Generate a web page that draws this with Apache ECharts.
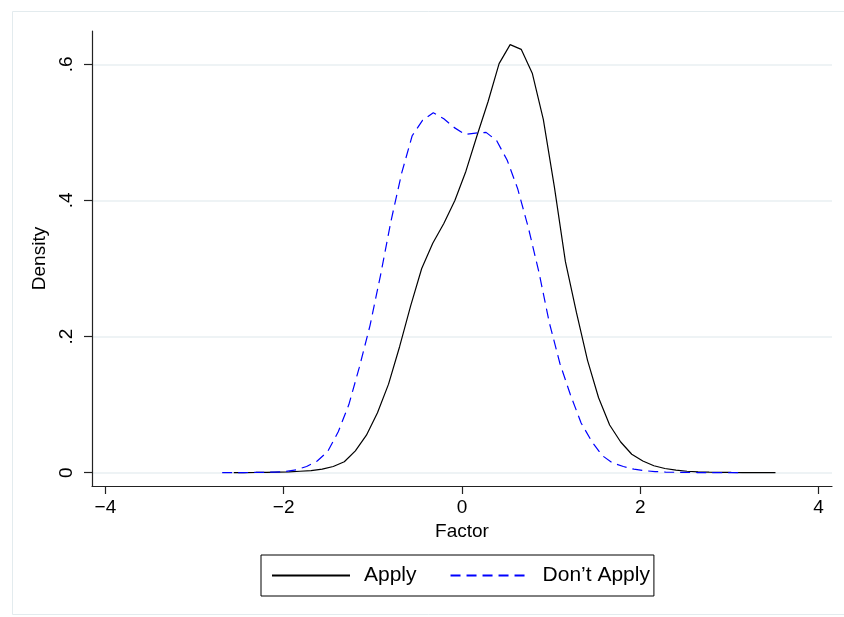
<!DOCTYPE html>
<html>
<head>
<meta charset="utf-8">
<script src="https://cdn.jsdelivr.net/npm/echarts@6/dist/echarts.min.js"></script>
<style>html,body{margin:0;padding:0;background:#fff}#c{width:844px;height:617px}</style>
</head>
<body>
<div id="c"></div>
<script>
// ---- data ----
const applyX = [-2.56,-2.436,-2.312,-2.188,-2.064,-1.94,-1.816,-1.692,-1.568,-1.444,-1.32,-1.196,-1.072,-0.948,-0.824,-0.70,-0.576,-0.452,-0.328,-0.204,-0.08,0.044,0.168,0.292,0.416,0.54,0.664,0.788,0.912,1.036,1.16,1.284,1.408,1.532,1.656,1.78,1.904,2.028,2.152,2.276,2.40,2.524,2.648,2.772,2.896,3.02,3.144,3.268,3.392,3.516];
const applyY = [0.0000,0.0001,0.0002,0.0004,0.0007,0.001,0.002,0.003,0.005,0.009,0.016,0.032,0.055,0.088,0.130,0.185,0.245,0.300,0.337,0.366,0.400,0.443,0.495,0.545,0.601,0.629,0.622,0.587,0.519,0.420,0.310,0.235,0.165,0.110,0.070,0.045,0.027,0.017,0.010,0.006,0.0035,0.002,0.0012,0.0007,0.0004,0.0002,0.0001,0.0001,0.0000,0.0000];
const dontX = [-2.69,-2.572,-2.453,-2.335,-2.216,-2.098,-1.980,-1.861,-1.743,-1.624,-1.506,-1.388,-1.269,-1.151,-1.032,-0.914,-0.796,-0.677,-0.559,-0.441,-0.322,-0.204,-0.086,0.033,0.151,0.270,0.388,0.507,0.625,0.744,0.862,0.980,1.099,1.217,1.336,1.454,1.573,1.691,1.810,1.928,2.047,2.165,2.284,2.402,2.521,2.639,2.758,2.876,2.995,3.113];
const dontY = [0.0000,0.0000,0.0001,0.0002,0.0004,0.0008,0.0015,0.004,0.009,0.017,0.031,0.060,0.100,0.155,0.216,0.290,0.370,0.440,0.495,0.518,0.529,0.520,0.507,0.497,0.499,0.500,0.488,0.459,0.417,0.360,0.295,0.220,0.160,0.114,0.073,0.046,0.025,0.014,0.009,0.005,0.0028,0.0015,0.0008,0.0004,0.0002,0.0001,0.0001,0.0000,0.0000,0.0000];
const seriesNames = ['Apply', 'Don\u2019t Apply'];
const xTicks = [-4, -2, 0, 2, 4];
const yTicks = [0, 0.2, 0.4, 0.6];
const xTitle = 'Factor';
const yTitle = 'Density';

// ---- chart ----
const chart = echarts.init(document.getElementById('c'), null, {renderer: 'canvas'});
const FONT = '"Liberation Sans", Arial, Helvetica, sans-serif';
const pair = (xs, ys) => xs.map((x, i) => [x, ys[i]]);
const fmtY = v => { if (Math.abs(v) < 1e-9) return '0'; return String(+v.toFixed(1)).replace(/^0/, ''); };
const fmtX = v => (v < 0 ? '\u2212' + Math.abs(v) : String(v));

chart.setOption({
  animation: false,
  backgroundColor: '#ffffff',
  graphic: [{
    type: 'rect', left: 10, top: 9, silent: true,
    shape: {width: 840, height: 603},
    style: {fill: 'none', stroke: '#e3ebee', lineWidth: 1}
  }],
  grid: {left: 92, right: 12, top: 31, bottom: 131, containLabel: false},
  xAxis: {
    type: 'value', min: -4.15, max: 4.15,
    name: xTitle, nameLocation: 'middle', nameGap: 36,
    nameTextStyle: {fontFamily: FONT, fontSize: 19, color: '#000'},
    axisLine: {show: true, onZero: false, lineStyle: {color: '#222', width: 1.2}},
    axisTick: {show: true, length: 8, customValues: xTicks, lineStyle: {color: '#222', width: 1.2}},
    axisLabel: {customValues: xTicks, formatter: fmtX, margin: 12, fontFamily: FONT, fontSize: 19, color: '#000'},
    splitLine: {show: false}
  },
  yAxis: {
    type: 'value', min: -0.0197, max: 0.649,
    name: yTitle, nameLocation: 'middle', nameGap: 41, nameRotate: 90,
    nameTextStyle: {fontFamily: FONT, fontSize: 19, color: '#000'},
    axisLine: {show: true, onZero: false, lineStyle: {color: '#222', width: 1.2}},
    axisTick: {show: true, length: 8, customValues: yTicks, lineStyle: {color: '#222', width: 1.2}},
    axisLabel: {customValues: yTicks, formatter: fmtY, rotate: 90, margin: 16, fontFamily: FONT, fontSize: 19, color: '#000'},
    splitLine: {show: true, lineStyle: {color: '#e8eff2', width: 1.5}}
  },
  legend: {
    show: true, left: 261, top: 555,
    orient: 'horizontal',
    padding: [10, 4, 10, 10],
    itemWidth: 78, itemHeight: 20, itemGap: 33,
    borderColor: '#000', borderWidth: 1, borderRadius: 0,
    itemStyle: {opacity: 0},
    textStyle: {fontFamily: FONT, fontSize: 21, color: '#000', padding: [0, 0, 0, 9]},
    data: seriesNames
  },
  series: [
    {
      name: seriesNames[0], type: 'line', data: pair(applyX, applyY),
      symbol: 'none', smooth: false,
      lineStyle: {color: '#000', width: 1.2},
      itemStyle: {color: '#000'}
    },
    {
      name: seriesNames[1], type: 'line', data: pair(dontX, dontY),
      symbol: 'none', smooth: false,
      lineStyle: {color: '#0000ff', width: 1.2, type: [10, 6]},
      itemStyle: {color: '#0000ff'}
    }
  ]
});
</script>
</body>
</html>
